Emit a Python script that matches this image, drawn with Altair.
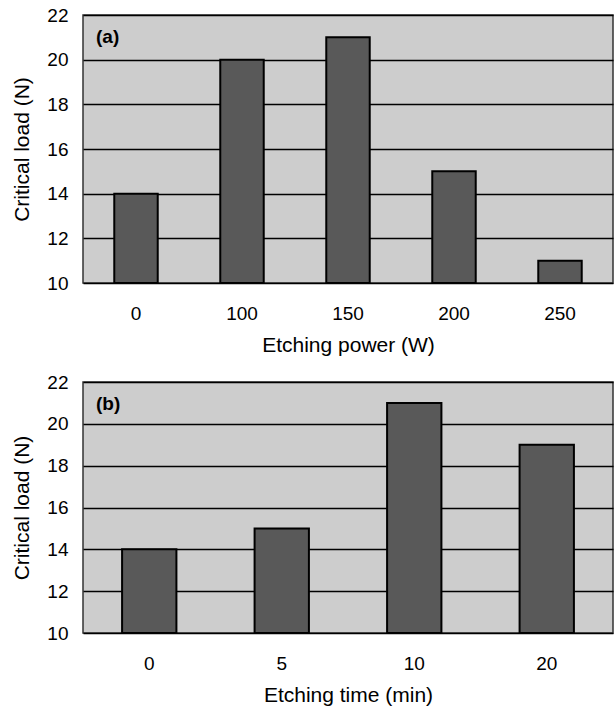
import altair as alt
import pandas as pd

power_cats = ["0", "100", "150", "200", "250"]
power_vals = [14, 20, 21, 15, 11]
time_cats = ["0", "5", "10", "20"]
time_vals = [14, 15, 21, 19]

FONT = "Liberation Sans"
BG = "#cdcdcd"
BAR = "#595959"


def panel(cats, vals, xtitle, tag, h):
    df = pd.DataFrame({"cat": cats, "val": vals})
    bars = alt.Chart(df).mark_bar(
        color=BAR, stroke="black", strokeWidth=2
    ).encode(
        x=alt.X("cat:N", sort=cats, title=xtitle,
                scale=alt.Scale(paddingInner=0.59, paddingOuter=0.295),
                axis=alt.Axis(labelAngle=0, ticks=False, labelPadding=21,
                              labelFontSize=19, titleFontSize=21,
                              titlePadding=11, labelFont=FONT, titleFont=FONT,
                              titleFontWeight="normal", labelColor="black",
                              titleColor="black", domain=False)),
        y=alt.Y("val:Q", title="Critical load (N)",
                scale=alt.Scale(domain=[10, 22], nice=False, zero=False),
                axis=alt.Axis(values=[10, 12, 14, 16, 18, 20, 22], ticks=False,
                              labelPadding=15, labelFontSize=19, titleFontSize=21,
                              titlePadding=14, labelFont=FONT, titleFont=FONT,
                              titleFontWeight="normal", labelColor="black",
                              titleColor="black", domain=False,
                              grid=True, gridColor="black", gridWidth=1.3,
                              gridOpacity=1)),
        y2=alt.datum(10),
    )
    lab = alt.Chart(pd.DataFrame({"t": [tag]})).mark_text(
        font=FONT, fontSize=19, fontWeight="bold", align="left",
        baseline="middle", color="black"
    ).encode(text="t:N", x=alt.value(13), y=alt.value(22))
    return alt.layer(bars, lab).properties(width=530, height=h)


top = panel(power_cats, power_vals, "Etching power (W)", "(a)", 268)
bottom = panel(time_cats, time_vals, "Etching time (min)", "(b)", 251)

chart = alt.vconcat(top, bottom, spacing=16).properties(
    padding={"left": 11, "top": 5, "right": 0, "bottom": 0},
    background="white",
).configure_view(
    fill=BG, stroke="#333333", strokeWidth=1.5
)

chart.save("out.html", embed_options={"renderer": "svg", "actions": False})
